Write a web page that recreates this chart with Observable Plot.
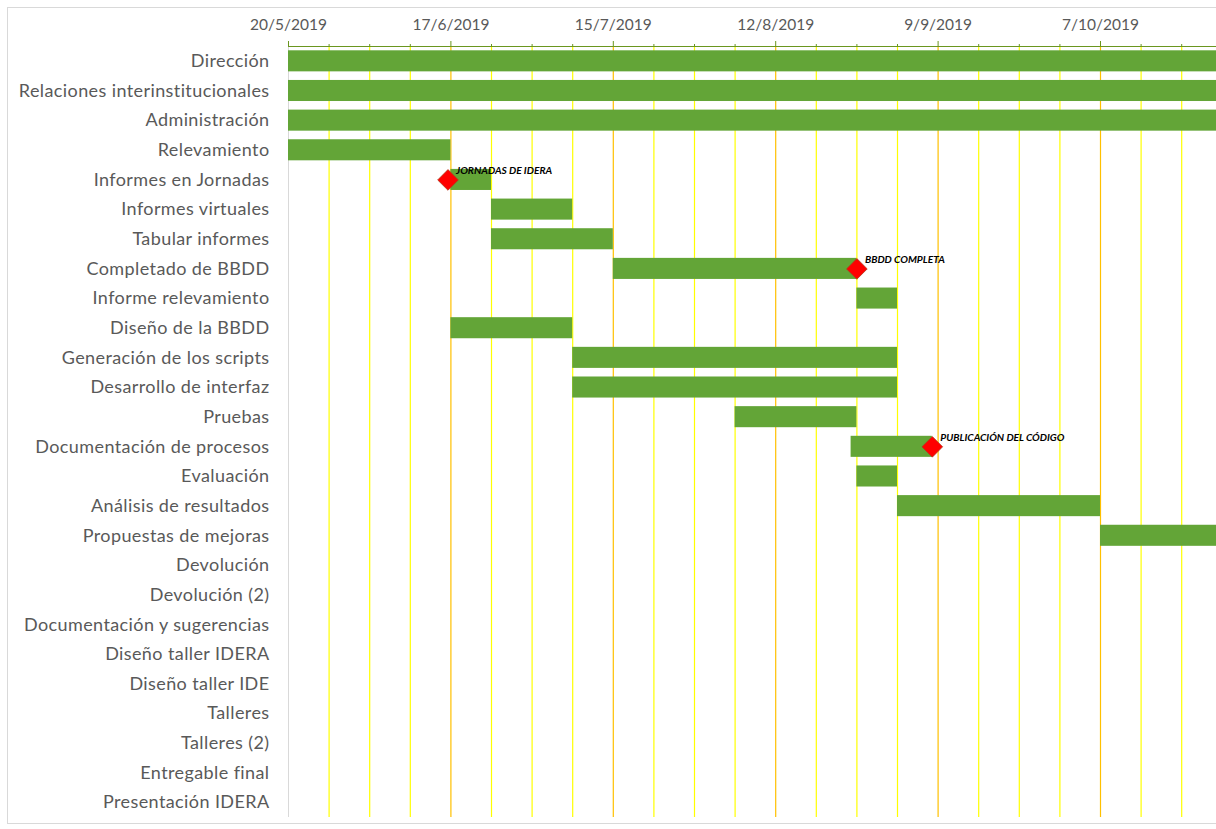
<!DOCTYPE html>
<html><head><meta charset="utf-8">
<script src="https://cdn.jsdelivr.net/npm/d3@7"></script>
<script src="https://cdn.jsdelivr.net/npm/@observablehq/plot@0.6"></script>
<style>
body{margin:0;background:#fff;}
#wrap{position:relative;width:1216px;height:829px;overflow:hidden;}
#frame{position:absolute;left:7px;top:7px;width:1300px;height:815px;border:1px solid #d9d9d9;pointer-events:none;}
g[aria-label="y-axis tick label"] text{letter-spacing:0.4px;}
</style></head>
<body><div id="wrap"><div id="frame"></div></div>
<script>
const tasks = ["Dirección","Relaciones interinstitucionales","Administración","Relevamiento","Informes en Jornadas","Informes virtuales","Tabular informes","Completado de BBDD","Informe relevamiento","Diseño de la BBDD","Generación de los scripts","Desarrollo de interfaz","Pruebas","Documentación de procesos","Evaluación","Análisis de resultados","Propuestas de mejoras","Devolución","Devolución (2)","Documentación y sugerencias","Diseño taller IDERA","Diseño taller IDE","Talleres","Talleres (2)","Entregable final","Presentación IDERA"];
const barTask  = ["Dirección","Relaciones interinstitucionales","Administración","Relevamiento","Informes en Jornadas","Informes virtuales","Tabular informes","Completado de BBDD","Informe relevamiento","Diseño de la BBDD","Generación de los scripts","Desarrollo de interfaz","Pruebas","Documentación de procesos","Evaluación","Análisis de resultados","Propuestas de mejoras"];
const barStart = ["2019-05-20","2019-05-20","2019-05-20","2019-05-20","2019-06-17","2019-06-24","2019-06-24","2019-07-15","2019-08-26","2019-06-17","2019-07-08","2019-07-08","2019-08-05","2019-08-25","2019-08-26","2019-09-02","2019-10-07"];
const barEnd   = ["2019-11-30","2019-11-30","2019-11-30","2019-06-17","2019-06-24","2019-07-08","2019-07-15","2019-08-26","2019-09-02","2019-07-08","2019-09-02","2019-09-02","2019-08-26","2019-09-08","2019-09-02","2019-10-07","2019-11-30"];
const msTask  = ["Informes en Jornadas","Completado de BBDD","Documentación de procesos"];
const msDate  = ["2019-06-16T12:00","2019-08-26","2019-09-08"];
const msLabel = ["JORNADAS DE IDERA","BBDD COMPLETA","PUBLICACIÓN DEL CÓDIGO"];
const tickDates = ["2019-05-20","2019-06-17","2019-07-15","2019-08-12","2019-09-09","2019-10-07"];
const domainStart = "2019-05-20", domainEnd = "2019-10-27";

const D = s => new Date(s + (s.length === 10 ? "T00:00Z" : "Z"));
const bars = barTask.map((t,i)=>({task:t, start:D(barStart[i]), end:D(barEnd[i])}));
const ms = msTask.map((t,i)=>({task:t, date:D(msDate[i]), label:msLabel[i]}));
const majors = tickDates.map(D);
const weeks = d3.utcMonday.range(D(domainStart), D(domainEnd));
const minors = weeks.filter(w => !majors.some(m => +m === +w));
const fmt = d => `${d.getUTCDate()}/${d.getUTCMonth()+1}/${d.getUTCFullYear()}`;

const chart = Plot.plot({
  width: 1216, height: 829,
  marginLeft: 288, marginRight: 0, marginTop: 46, marginBottom: 12,
  style: {fontFamily: "Lato, sans-serif", background: "transparent"},
  x: {type: "utc", domain: [D(domainStart), D(domainEnd)], axis: null, label: null},
  y: {domain: tasks, range: [46, 817], round: false, paddingInner: 0.29, paddingOuter: 0.145, align: 0.5, axis: null, label: null},
  marks: [
    Plot.gridX(minors, {stroke: "#ffff00", strokeOpacity: 1, strokeWidth: 1.2}),
    Plot.gridX(majors.slice(1), {stroke: "#ffc000", strokeOpacity: 1, strokeWidth: 1.2}),
    Plot.ruleX([D(domainStart)], {stroke: "#d9d9d9"}),
    Plot.barX(bars, {x1: "start", x2: "end", y: "task", fill: "#63a537", clip: true}),
    Plot.dot(ms, {x: "date", y: "task", symbol: "diamond2", r: 9.3, fill: "#ff0000", stroke: "#b03a1a", strokeWidth: 0.8}),
    Plot.text(ms, {x: "date", y: "task", text: "label", dx: 8, dy: -9, textAnchor: "start", fontSize: 10.2, fontWeight: "bold", fontStyle: "italic", fill: "#000"}),
    Plot.axisY({anchor: "left", label: null, tickSize: 0, tickPadding: 19, fontSize: 18, fill: "#595959", color: "#595959"}),
    Plot.axisX(minors, {anchor: "top", label: null, tickSize: 3, text: null, stroke: "#6a961f"}),
    Plot.axisX(majors, {anchor: "top", label: null, tickSize: 6, tickPadding: 11, tickFormat: fmt, fontSize: 15.5, stroke: "#6a961f", fill: "#595959"}),
    Plot.frame({anchor: "top", stroke: "#6a961f", strokeOpacity: 1})
  ]
});
chart.style.position = "absolute";
chart.style.left = "0"; chart.style.top = "0";
document.getElementById("wrap").prepend(chart);
</script>
</body></html>
